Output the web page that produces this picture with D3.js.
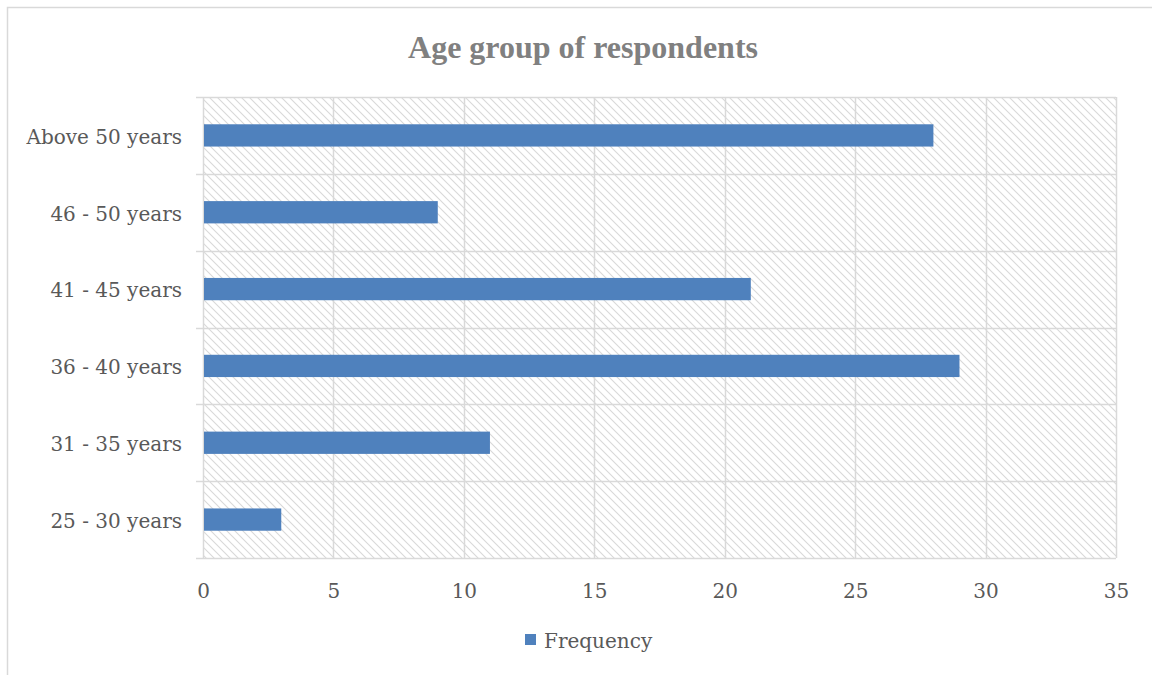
<!DOCTYPE html>
<html>
<head>
<meta charset="utf-8">
<script src="https://cdn.jsdelivr.net/npm/d3@7"></script>
<style>
  html, body { margin: 0; padding: 0; background: #fff; }
  svg { display: block; }
</style>
</head>
<body>
<svg id="chart" width="1152" height="675"></svg>
<script>
// Age groups of respondents, bottom to top as drawn
const categories = ["25 - 30 years", "31 - 35 years", "36 - 40 years", "41 - 45 years", "46 - 50 years", "Above 50 years"];
const frequency = [3, 11, 29, 21, 9, 28];
const xTicks = [0, 5, 10, 15, 20, 25, 30, 35];
const seriesName = "Frequency";
const chartTitle = "Age group of respondents";

const svg = d3.select("#chart");
const W = 1152, H = 675;
const plot = { left: 203, right: 1116, top: 97, bottom: 558 };
const labelFont = "'DejaVu Serif', serif";
const labelSize = 20;
const textColor = "#595959";
const gridColor = "#d9d9d9";
const barColor = "#4f81bd";

// Diagonal hatch fill for the plot area
const defs = svg.append("defs");
const pat = defs.append("pattern")
  .attr("id", "hatch")
  .attr("patternUnits", "userSpaceOnUse")
  .attr("width", 8).attr("height", 8);
pat.append("rect").attr("width", 8).attr("height", 8).attr("fill", "#fff");
pat.append("path")
  .attr("d", "M-2,-2 L10,10 M-2,6 L2,10 M6,-2 L10,2")
  .attr("stroke", "#d9d9d9").attr("stroke-width", 1.1);

// Chart frame
svg.append("rect")
  .attr("x", 7.5).attr("y", 7.5)
  .attr("width", W + 20).attr("height", H + 20)
  .attr("fill", "#fff").attr("stroke", gridColor).attr("stroke-width", 1.5);

const x = d3.scaleLinear().domain([0, 35]).range([plot.left, plot.right]);
const y = d3.scaleBand().domain(categories.slice().reverse())
  .range([plot.top, plot.bottom]).padding(0);

svg.append("rect")
  .attr("x", plot.left).attr("y", plot.top)
  .attr("width", plot.right - plot.left).attr("height", plot.bottom - plot.top)
  .attr("fill", "url(#hatch)");

// Vertical gridlines
svg.append("g").selectAll("line").data(xTicks).join("line")
  .attr("x1", d => Math.round(x(d)) + 0.5).attr("x2", d => Math.round(x(d)) + 0.5)
  .attr("y1", plot.top).attr("y2", plot.bottom)
  .attr("stroke", gridColor).attr("stroke-width", 1.5);

// Horizontal band separators with outward tick marks
const bounds = categories.map((c) => y(c)).concat([plot.bottom]);
svg.append("g").selectAll("line").data(bounds).join("line")
  .attr("x1", plot.left - 7).attr("x2", plot.right)
  .attr("y1", d => Math.round(d) + 0.5).attr("y2", d => Math.round(d) + 0.5)
  .attr("stroke", gridColor).attr("stroke-width", 1.5);

// Bars
const barH = y.bandwidth() * 0.29;
svg.append("g").selectAll("rect").data(categories).join("rect")
  .attr("x", x(0) + 1)
  .attr("y", c => y(c) + (y.bandwidth() - barH) / 2)
  .attr("width", (c, i) => x(frequency[i]) - x(0) - 1)
  .attr("height", barH)
  .attr("fill", barColor);

// X axis labels
const xAxis = svg.append("g")
  .attr("transform", `translate(0,${plot.bottom})`)
  .call(d3.axisBottom(x).tickValues(xTicks).tickSize(0).tickPadding(26));
xAxis.select(".domain").remove();
xAxis.selectAll("text")
  .attr("fill", textColor).attr("font-size", labelSize).attr("font-family", labelFont);

// Category labels
const yAxis = svg.append("g")
  .attr("transform", `translate(${plot.left},0)`)
  .call(d3.axisLeft(y).tickSize(0).tickPadding(21));
yAxis.select(".domain").remove();
yAxis.selectAll("text")
  .attr("dy", "0.42em")
  .attr("fill", textColor).attr("font-size", labelSize).attr("font-family", labelFont);

// Title
svg.append("text")
  .attr("x", 583).attr("y", 58)
  .attr("text-anchor", "middle")
  .attr("font-family", "'Liberation Serif', 'Times New Roman', serif")
  .attr("font-weight", "bold").attr("font-size", 32)
  .attr("fill", "#808080")
  .text(chartTitle);

// Legend
const lg = svg.append("g").attr("transform", "translate(525,634)");
lg.append("rect").attr("width", 11).attr("height", 11).attr("fill", barColor);
lg.append("text").attr("x", 19).attr("y", 7).attr("dy", "0.35em")
  .attr("fill", textColor).attr("font-size", labelSize).attr("font-family", labelFont)
  .text(seriesName);
</script>
</body>
</html>
